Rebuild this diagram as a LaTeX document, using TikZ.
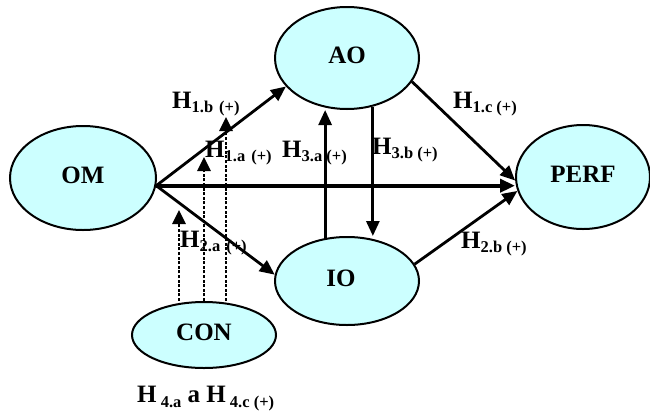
\documentclass[tikz,border=0pt]{standalone}
\usepackage{fontspec}
\setmainfont{Liberation Serif}
\usetikzlibrary{arrows.meta,shapes.geometric,calc}
\definecolor{varfill}{RGB}{204,255,255}
\newcommand{\hyp}[1]{H\raisebox{-4pt}{\fontsize{16.5}{16}\selectfont #1}}
\tikzset{
  var/.style={draw, ellipse, line width=2pt, fill=varfill, inner sep=0pt,
    text height=17pt, text depth=7pt, font=\fontsize{25}{28}\selectfont\bfseries},
  lbl/.style={inner sep=0pt, anchor=base west, font=\fontsize{25}{28}\selectfont\bfseries},
  path/.style={line width=2.8pt, -{Triangle[length=15pt,width=13pt]}},
  modpath/.style={line width=2.8pt, dash pattern=on 3pt off 1.6pt,
    -{Triangle[length=14pt,width=13pt]}}
}

\begin{document}
\begin{tikzpicture}[x=1pt,y=-1pt]

    \useasboundingbox (0,0) rectangle (650,410);

    % Konstrukty
    \node[var, minimum width=146pt, minimum height=104pt] (OM) at (83,178) {OM};
    \node[var, minimum width=144pt, minimum height=102pt] (AO) at (347,58) {AO};
    \node[var, minimum width=134pt, minimum height=104pt] (PERF) at (583,177) {PERF};
    \node[var, minimum width=144pt, minimum height=88pt] (IO) at (347,281) {\hspace{-12pt}IO};
    \node[var, minimum width=144pt, minimum height=66pt] (CON) at (204,335) {CON};

    % Hypotezy
    \node[lbl] (h1b) at (172,108) {\hyp{1.b\hspace{6pt}(+)}};
    \node[lbl] (h1a) at (205,157) {\hyp{1.a\hspace{6pt}(+)}};
    \node[lbl] (h3a) at (282,157) {\hyp{3.a (+)}};
    \node[lbl] (h3b) at (372,154) {\hyp{3.b (+)}};
    \node[lbl] (h1c) at (453,108) {\hyp{1.c (+)}};
    \node[lbl] (h2a) at (180,247) {\hyp{2.a\hspace{6pt}(+)}};
    \node[lbl] (h2b) at (461,248) {\hyp{2.b (+)}};
    \node[lbl] (h4) at (137,402) {H\raisebox{-5pt}{\fontsize{16.5}{16}\selectfont\ 4.a} a H\raisebox{-5pt}{\fontsize{16.5}{16}\selectfont\ 4.c (+)}};

    % Vztahy
    \draw[path] (OM.-6) -- (AO.205);
    \draw[path, line width=3.8pt] (OM.-6) -- (OM.-6 -| PERF.west);
    \draw[path] (OM.-6) -- (IO.175);
    \draw[path] (AO.-20) -- (PERF.183);
    \draw[path] (IO.14) -- (PERF.192);
    \draw[path] (IO.117) -- (IO.117 |- AO.south);
    \draw[path] (AO.-62) -- (AO.-62 |- IO.north);

    % Moderace
    \coordinate (d1) at (179,210);
    \coordinate (d2) at (204,157);
    \coordinate (d3) at (226,117);
    \draw[modpath] (d1 |- CON.north) -- (d1);
    \draw[modpath] (d2 |- CON.north) -- (d2);
    \draw[modpath] (d3 |- CON.north) -- (d3);

\end{tikzpicture}
\end{document}
